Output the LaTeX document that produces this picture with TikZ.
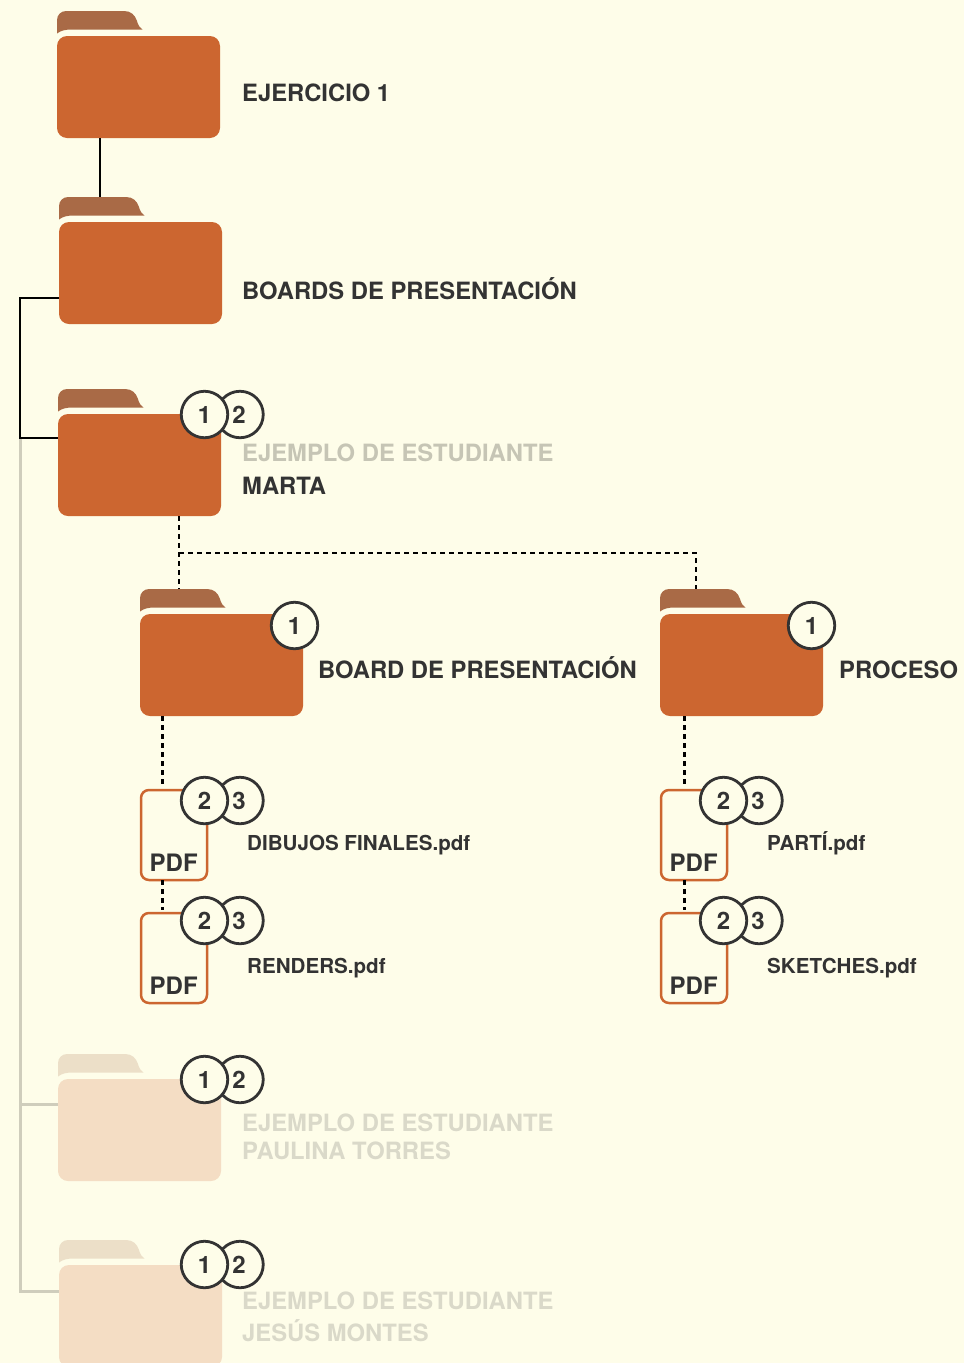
\documentclass[tikz,border=0pt]{standalone}
\usepackage{fontspec}
\setmainfont{TeX Gyre Heros}
\definecolor{paper}{HTML}{FEFDE9}
\definecolor{ink}{HTML}{333333}
\definecolor{rust}{HTML}{CC6630}
\definecolor{rusttab}{HTML}{A96A46}
\definecolor{peach}{HTML}{F4DDC4}
\definecolor{peachtab}{HTML}{ECDFC8}
\definecolor{rail}{HTML}{CFCDBC}
\definecolor{fade}{HTML}{C6C5B5}
\definecolor{fader}{HTML}{DAD9C9}
\tikzstyle{folder}=[rectangle,rounded corners=10pt,anchor=north west,minimum width=163pt,minimum height=102pt,inner sep=0,outer sep=0]
\tikzstyle{pdffile}=[rectangle,draw=rust,line width=2.5pt,rounded corners=8pt,anchor=north west,minimum width=66pt,minimum height=90pt,inner sep=0,outer sep=0]
\tikzstyle{badge}=[circle,draw=ink,fill=paper,line width=2.8pt,minimum size=46.5pt,inner sep=0,text=ink,font=\fontsize{24}{24}\bfseries\selectfont]
\tikzstyle{title}=[anchor=base west,inner sep=0,text=ink,font=\fontsize{23.8}{24}\bfseries\selectfont]
\tikzstyle{fname}=[anchor=base west,inner sep=0,text=ink,font=\fontsize{20.6}{21}\bfseries\selectfont]
\tikzstyle{solidlink}=[line width=2.7pt,black]
\tikzstyle{raillink}=[line width=3pt,rail]
\tikzstyle{dashlink}=[line width=2.8pt,black,dash pattern=on 5pt off 4pt]
% folder: name, left, top of body, body colour, tab colour
\newcommand{\folderat}[5]{
  \fill[#5,shift={(#2,#3)}] (0,-2.5)--(0,-16) .. controls (0,-21) and (4,-25) .. (9,-25) coordinate (#1tab)
    --(67,-25) .. controls (74,-25) and (78,-21) .. (80,-15) .. controls (81,-11) and (83,-8) .. (85.5,-6.5)
    --(15,-6.5) .. controls (8,-6.5) and (4,-5.5) .. (0,-2.5)--cycle;
  \node[folder,fill=#4] (#1) at (#2,#3) {};
}
% two badges: name, centre of the front one, digits
\newcommand{\badgeat}[5]{
  \node[badge] (#1back) at (#2+35.5,#3) {\kern-2pt#5};
  \node[badge] (#1front) at (#2,#3) {#4};
}
\newcommand{\pdfat}[3]{
  \node[pdffile] (#1) at (#2,#3) {};
  \node[title,font=\fontsize{24}{24}\bfseries\selectfont] (#1label) at (#2+8.5,#3+81) {PDF};
}
\begin{document}
\begin{tikzpicture}[x=1pt,y=-1pt]
  \useasboundingbox[fill=paper] (0,0) rectangle (964,1363);
  % folders
  \folderat{ejercicio}{57}{36}{rust}{rusttab}
  \folderat{boards}{59}{222}{rust}{rusttab}
  \folderat{marta}{58}{414}{rust}{rusttab}
  \folderat{board}{140}{614}{rust}{rusttab}
  \folderat{proceso}{660}{614}{rust}{rusttab}
  \folderat{paulina}{58}{1079}{peach}{peachtab}
  \folderat{jesus}{59}{1265}{peach}{peachtab}
  \pdfat{dibujos}{141}{790}
  \pdfat{renders}{141}{913}
  \pdfat{parti}{661}{790}
  \pdfat{sketches}{661}{913}
  % links
  \coordinate (railtop) at (20,438);
  \draw[raillink] (railtop)--(20,1291)--([yshift=25pt]jesus.west);
  \draw[raillink] ([yshift=26pt]paulina.west)--(20,1104);
  \draw[solidlink] ([xshift=43pt]ejercicio.south west)--([xshift=41pt]boards.north west |- boardstab);
  \draw[solidlink] ([yshift=-25pt]boards.west)--(20,298)--(railtop)--([yshift=27pt]marta.west);
  \coordinate (dashsplit) at (179,553);
  \draw[dashlink] ([xshift=121pt]marta.south west)--([xshift=39pt]board.north west |- boardtab);
  \draw[dashlink] (dashsplit)--(696,553)--([xshift=36pt]proceso.north west |- procesotab);
  \draw[dashlink] ([xshift=22.5pt]board.south west)--([xshift=21.5pt,yshift=3pt]dibujos.north west);
  \draw[dashlink] ([xshift=21.5pt]dibujos.south west)--([xshift=21.5pt,yshift=3pt]renders.north west);
  \draw[dashlink] ([xshift=24.5pt]proceso.south west)--([xshift=23.5pt,yshift=3pt]parti.north west);
  \draw[dashlink] ([xshift=23.5pt]parti.south west)--([xshift=23.5pt,yshift=3pt]sketches.north west);
  % badges
  \badgeat{marta}{204.5}{414.5}{1}{2}
  \badgeat{paulina}{204.5}{1079.5}{1}{2}
  \badgeat{jesus}{204.5}{1264.5}{1}{2}
  \node[badge] (boardone) at (294.5,625.5) {1};
  \node[badge] (procesoone) at (811.5,625.5) {1};
  \badgeat{dibujos}{204.5}{800.5}{2}{3}
  \badgeat{renders}{204.5}{920.5}{2}{3}
  \badgeat{parti}{723.5}{800.5}{2}{3}
  \badgeat{sketches}{723.5}{920.5}{2}{3}
  % texts
  \node[title] (ejerciciotext) at (242,101) {EJERCICIO 1};
  \node[title] (boardstext) at (242,299) {BOARDS DE PRESENTACIÓN};
  \node[title,text=fade] (martahead) at (242,461) {EJEMPLO DE ESTUDIANTE};
  \node[title] (martatext) at (242,494) {MARTA};
  \node[title] (boardtext) at (318,678) {BOARD DE PRESENTACIÓN};
  \node[title] (procesotext) at (839,678) {PROCESO};
  \node[fname] (dibujostext) at (247,850) {DIBUJOS FINALES.pdf};
  \node[fname] (renderstext) at (247,973) {RENDERS.pdf};
  \node[fname] (partitext) at (767,850) {PARTÍ.pdf};
  \node[fname] (sketchestext) at (767,973) {SKETCHES.pdf};
  \node[title,text=fader] (paulinahead) at (242,1131) {EJEMPLO DE ESTUDIANTE};
  \node[title,text=fader] (paulinatext) at (242,1159) {PAULINA TORRES};
  \node[title,text=fader] (jesushead) at (242,1309) {EJEMPLO DE ESTUDIANTE};
  \node[title,text=fader] (jesustext) at (242,1341) {JESÚS MONTES};
\end{tikzpicture}
\end{document}
